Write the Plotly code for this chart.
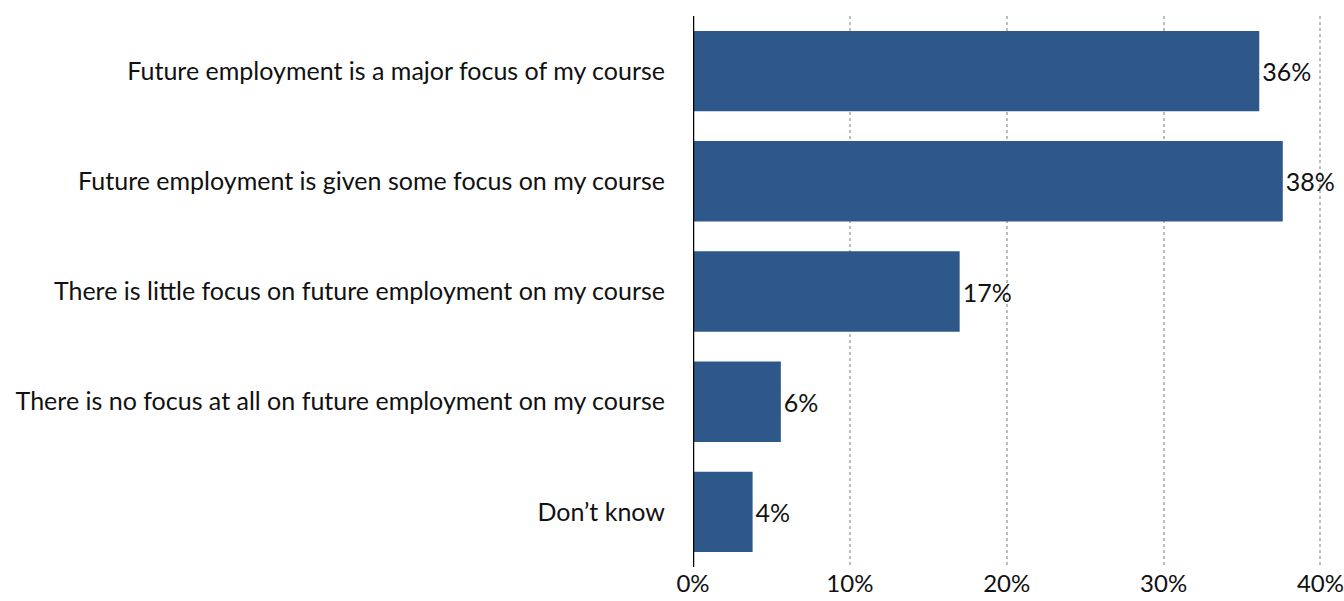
import plotly.graph_objects as go

categories = [
    "Future employment is a major focus of my course",
    "Future employment is given some focus on my course",
    "There is little focus on future employment on my course",
    "There is no focus at all on future employment on my course",
    "Don\u2019t know",
]
shares = [36.1, 37.6, 17.0, 5.6, 3.8]
tick_values = [0, 10, 20, 30, 40]
tick_labels = ["0%", "10%", "20%", "30%", "40%"]

font_family = "Lato, 'Open Sans', sans-serif"

fig = go.Figure(
    go.Bar(
        x=shares,
        y=categories,
        orientation="h",
        marker=dict(color="#2e5889", line=dict(width=0)),
        width=0.73,
        text=[f"{v:.0f}%" for v in shares],
        textposition="outside",
        textfont=dict(size=25, color="#111111", family=font_family),
        cliponaxis=False,
    )
)

fig.update_layout(
    width=1344,
    height=601,
    margin=dict(l=693, r=22, t=16, b=34, autoexpand=False),
    paper_bgcolor="white",
    plot_bgcolor="white",
    showlegend=False,
    font=dict(family=font_family, size=25, color="#111111"),
    xaxis=dict(
        range=[0, 40.1],
        tickvals=tick_values,
        ticktext=tick_labels,
        showgrid=True,
        gridcolor="#bdbdbd",
        gridwidth=2,
        griddash="3px,3px",
        zeroline=False,
        showline=False,
        ticks="",
        ticklabelstandoff=0,
        ticklabeloverflow="allow",
        tickfont=dict(size=24),
        automargin=False,
        fixedrange=True,
    ),
    yaxis=dict(
        autorange="reversed",
        showgrid=False,
        zeroline=False,
        showline=False,
        ticks="",
        ticklabelstandoff=27,
        tickfont=dict(size=25),
        automargin=False,
        fixedrange=True,
    ),
    shapes=[
        dict(
            type="line",
            xref="x",
            yref="paper",
            x0=0,
            x1=0,
            y0=0,
            y1=1,
            line=dict(color="black", width=2.5),
        )
    ],
)

fig.write_html("out.html")
